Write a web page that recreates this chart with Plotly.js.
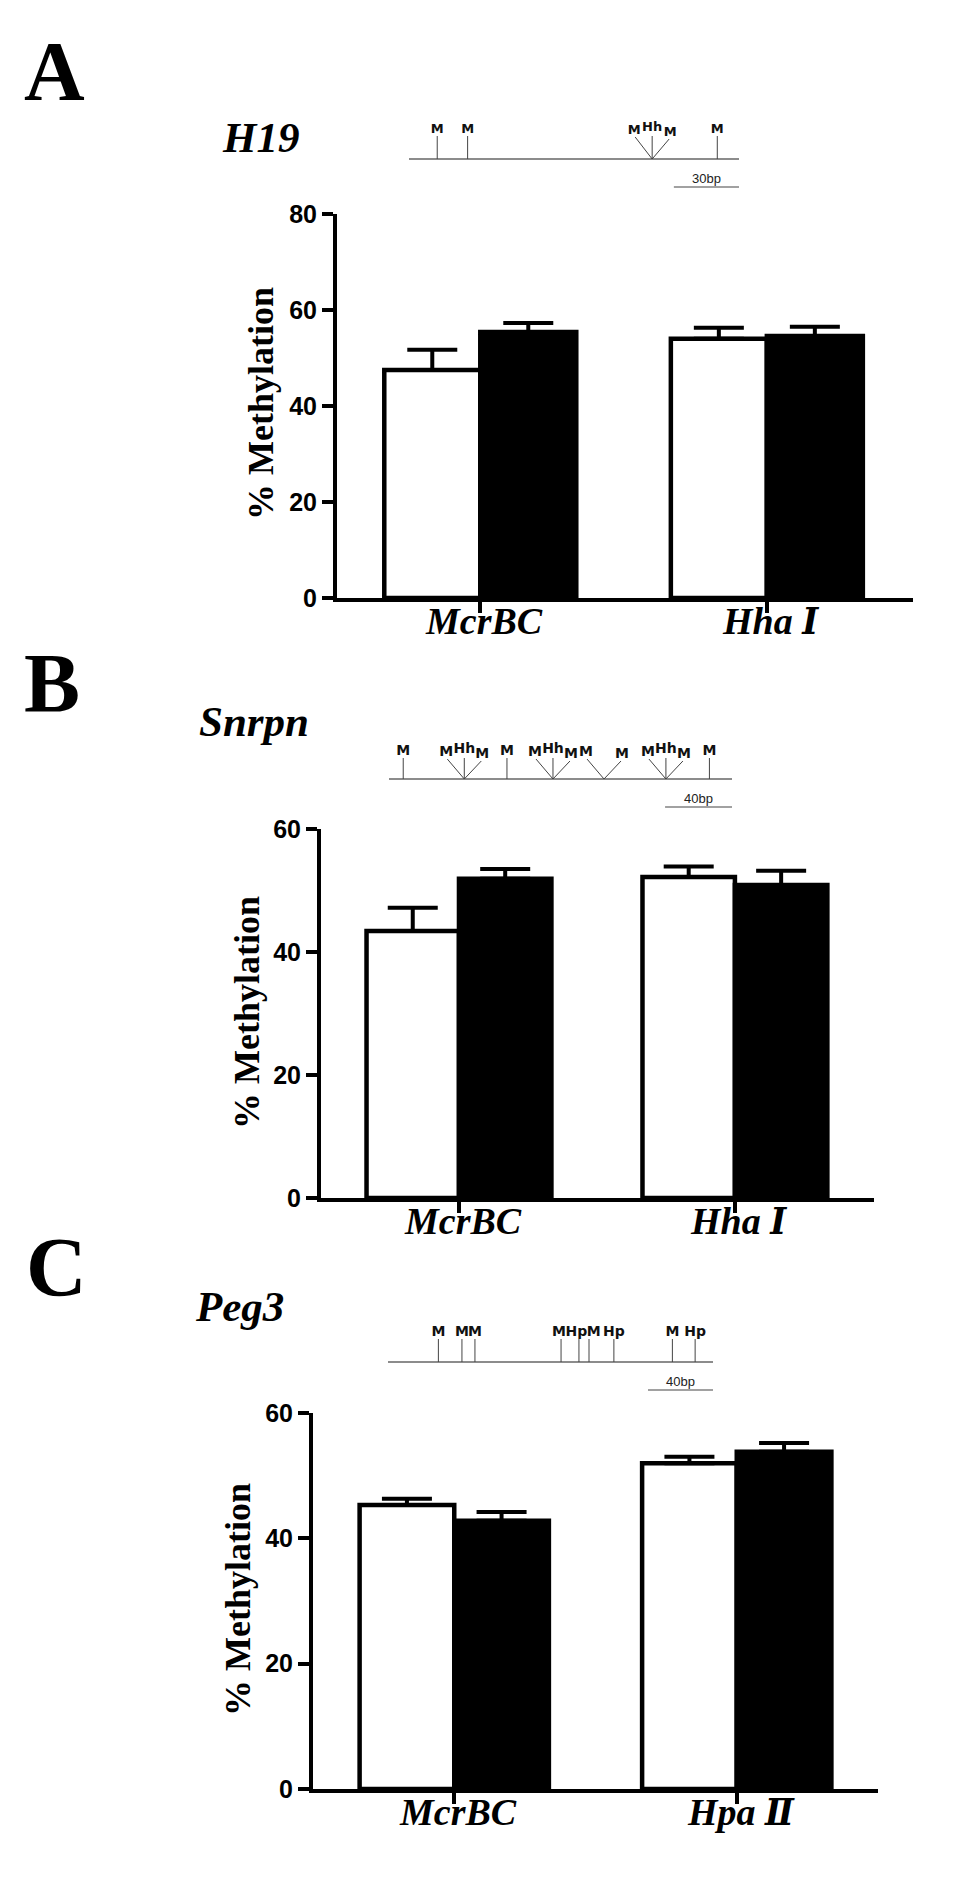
<!DOCTYPE html>
<html>
<head>
<meta charset="utf-8">
<script src="https://cdn.plot.ly/plotly-3.0.1.min.js"></script>
<style>html,body{margin:0;padding:0;background:#fff;}#chart{width:955px;height:1890px;}</style>
</head>
<body>
<div id="chart"></div>
<script>
// ---------------- DATA ----------------
const catsA = ['McrBC', 'Hha Ⅰ'];
const catsB = ['McrBC', 'Hha Ⅰ'];
const catsC = ['McrBC', 'Hpa Ⅱ'];

const h19Open = [47.5, 54.0];
const h19OpenErr = [4.2, 2.3];
const h19Filled = [55.4, 54.6];
const h19FilledErr = [1.9, 1.9];

const snrpnOpen = [43.4, 52.2];
const snrpnOpenErr = [3.8, 1.7];
const snrpnFilled = [51.9, 50.9];
const snrpnFilledErr = [1.6, 2.3];

const peg3Open = [45.3, 52.0];
const peg3OpenErr = [1.0, 1.0];
const peg3Filled = [42.8, 53.8];
const peg3FilledErr = [1.4, 1.4];

const yTicksA = [0, 20, 40, 60, 80];
const yTicksB = [0, 20, 40, 60];
const yTicksC = [0, 20, 40, 60];

// restriction maps (positions in bp)
const h19Length = 152;
const h19Sites = [13, 27, 112, 142];
const h19Enz = ['M', 'M', 'M Hh M', 'M'];
const h19Scale = 30;

const snrpnLength = 205;
const snrpnSites = [8.5, 45, 70.5, 98, 128.5, 165.5, 191.5];
const snrpnEnz = ['M', 'M Hh M', 'M', 'M Hh M', 'M M', 'M Hh M', 'M'];
const snrpnScale = 40;

const peg3Length = 200;
const peg3Sites = [31, 45.5, 53.5, 106.5, 117.5, 123.7, 139, 175, 189];
const peg3Enz = ['M', 'M', 'M', 'M', 'Hp', 'M', 'Hp', 'M', 'Hp'];
const peg3Scale = 40;

// ---------------- LAYOUT HELPERS ----------------
const W = 955, H = 1890;
const dx = (a, b) => [a / W, b / W];
const dy = (top, bottom) => [1 - bottom / H, 1 - top / H];
const px = p => p / W;
const py = p => 1 - p / H;

const SERIF_BI = "'Liberation Serif', 'Times New Roman', 'DejaVu Serif Condensed', 'DejaVu Serif', serif";

const traces = [];
const layout = {
  width: W, height: H,
  margin: {l: 0, r: 0, t: 0, b: 0},
  paper_bgcolor: '#fff', plot_bgcolor: 'rgba(0,0,0,0)',
  showlegend: false,
  barmode: 'group', bargap: 0.33, bargroupgap: 0,
  annotations: []
};

function barPanel(n, cats, open, openErr, filled, filledErr, yTicks, xDom, yDom, xRange) {
  const xa = n === 1 ? 'x' : 'x' + n, ya = n === 1 ? 'y' : 'y' + n;
  const errStyle = {type: 'data', symmetric: false, thickness: 4, width: 25, color: '#000'};
  traces.push({
    type: 'bar', x: cats, y: open, xaxis: xa, yaxis: ya, name: 'open',
    marker: {color: '#fff', line: {color: '#000', width: 4.5}},
    error_y: Object.assign({array: openErr, arrayminus: open.map(() => 0)}, errStyle),
    hoverinfo: 'skip'
  });
  traces.push({
    type: 'bar', x: cats, y: filled, xaxis: xa, yaxis: ya, name: 'filled',
    marker: {color: '#000', line: {color: '#000', width: 4.5}},
    error_y: Object.assign({array: filledErr, arrayminus: filled.map(() => 0)}, errStyle),
    hoverinfo: 'skip'
  });
  const axCommon = {
    showline: true, linewidth: 4, linecolor: '#000', showgrid: false, zeroline: false,
    ticks: 'outside', ticklen: 11, tickwidth: 4, tickcolor: '#000', fixedrange: true
  };
  layout['xaxis' + (n === 1 ? '' : n)] = Object.assign({}, axCommon, {
    domain: dx(xDom[0], xDom[1]), anchor: ya, range: xRange, type: 'category',
    showticklabels: false
  });
  layout['yaxis' + (n === 1 ? '' : n)] = Object.assign({}, axCommon, {
    domain: dy(yDom[0], yDom[1]), anchor: xa,
    range: [yTicks[0], yTicks[yTicks.length - 1]], tickvals: yTicks,
    tickfont: {family: 'Liberation Sans', size: 25, weight: 'bold', color: '#000'}
  });
  // category labels, placed on the category axis
  cats.forEach(c => {
    layout.annotations.push({
      text: c, x: c, xref: xa, y: py(yDom[1]), yref: 'paper',
      xanchor: 'center', yanchor: 'top', showarrow: false, xshift: 4,
      font: {family: SERIF_BI, size: 38, weight: 'bold', style: 'italic', color: '#000'}
    });
  });
}

const charW = {M: 0.863, H: 0.837, h: 0.712, p: 0.716};
function textWidth(t, size) {
  let w = 0;
  for (const ch of t) w += (charW[ch] || 0.7) * size;
  return w;
}

function mapPanel(n, length, sites, enz, scaleBp, xDom, baseY, tickH, fontSize) {
  const xa = 'x' + n, ya = 'y' + n;
  const top = baseY - 60, bottom = baseY + 40;
  const pxPerBp = (xDom[1] - xDom[0]) / length;
  const off = p => p / pxPerBp; // px offset -> bp
  layout['xaxis' + n] = {domain: dx(xDom[0], xDom[1]), range: [0, length], visible: false, anchor: ya, fixedrange: true};
  layout['yaxis' + n] = {domain: dy(top, bottom), range: [-(bottom - baseY), baseY - top], visible: false, anchor: xa, fixedrange: true};
  // backbone
  traces.push({type: 'scatter', mode: 'lines', x: [0, length], y: [0, 0], xaxis: xa, yaxis: ya,
    line: {color: '#666', width: 1.6}, hoverinfo: 'skip'});
  const sx = [], sy = [], labels = [];
  sites.forEach((s, i) => {
    const parts = enz[i].split(' ');
    if (parts.length === 1) {
      sx.push(s, s, null); sy.push(0, tickH, null);
      labels.push({x: s, y: tickH, t: parts[0]});
    } else {
      const l = s - off(17), r = s + off(17);
      sx.push(s, l, null, s, r, null); sy.push(0, tickH - 1, null, 0, tickH - 3, null);
      labels.push({x: l - off(1), y: tickH - 1, t: parts[0]});
      if (parts.length === 3) {
        sx.push(s, s, null); sy.push(0, tickH, null);
        labels.push({x: s, y: tickH + 2, t: parts[1]});
      }
      labels.push({x: r + off(1), y: tickH - 3, t: parts[parts.length - 1]});
    }
  });
  // push overlapping neighbouring labels apart
  labels.sort((a, b) => a.x - b.x);
  for (let iter = 0; iter < 20; iter++) {
    for (let k = 0; k < labels.length - 1; k++) {
      const a = labels[k], b = labels[k + 1];
      const need = off((textWidth(a.t, fontSize) + textWidth(b.t, fontSize)) / 2 + 0.5);
      const gap = b.x - a.x;
      if (gap < need) { const d = (need - gap) / 2; a.x -= d; b.x += d; }
    }
  }
  traces.push({type: 'scatter', mode: 'lines', x: sx, y: sy, xaxis: xa, yaxis: ya,
    line: {color: '#444', width: 1}, hoverinfo: 'skip'});
  traces.push({type: 'scatter', mode: 'text', x: labels.map(l => l.x), y: labels.map(l => l.y),
    text: labels.map(l => l.t), textposition: 'top center',
    xaxis: xa, yaxis: ya, cliponaxis: false,
    textfont: {family: 'DejaVu Sans', size: fontSize, weight: 'bold', color: '#111'}, hoverinfo: 'skip'});
  // scale bar
  traces.push({type: 'scatter', mode: 'lines', x: [length - scaleBp, length], y: [-28, -28], xaxis: xa, yaxis: ya,
    line: {color: '#444', width: 1.2}, hoverinfo: 'skip'});
  traces.push({type: 'scatter', mode: 'text', x: [length - scaleBp / 2], y: [-27], text: [scaleBp + 'bp'],
    textposition: 'top center', xaxis: xa, yaxis: ya, cliponaxis: false,
    textfont: {family: 'Liberation Sans', size: 13, color: '#222'}, hoverinfo: 'skip'});
}

barPanel(1, catsA, h19Open, h19OpenErr, h19Filled, h19FilledErr, yTicksA, [337, 913], [214, 598], [-0.5, 1.51]);
barPanel(2, catsB, snrpnOpen, snrpnOpenErr, snrpnFilled, snrpnFilledErr, yTicksB, [321, 874], [829, 1198], [-0.5, 1.504]);
barPanel(3, catsC, peg3Open, peg3OpenErr, peg3Filled, peg3FilledErr, yTicksC, [313, 878], [1413, 1789], [-0.5, 1.5]);

mapPanel(4, h19Length, h19Sites, h19Enz, h19Scale, [409, 739], 159, 23, 13);
mapPanel(5, snrpnLength, snrpnSites, snrpnEnz, snrpnScale, [389, 732], 779, 21, 14);
mapPanel(6, peg3Length, peg3Sites, peg3Enz, peg3Scale, [388, 713], 1362, 23, 14);

// panel letters, gene names, axis titles
function ann(text, x, y, font, extra) {
  layout.annotations.push(Object.assign({text: text, x: px(x), y: py(y), xref: 'paper', yref: 'paper',
    showarrow: false, font: font}, extra || {}));
}
const letterFont = {family: 'Liberation Serif', size: 84, weight: 'bold', color: '#000'};
const geneFont = {family: SERIF_BI, size: 43, weight: 'bold', style: 'italic', color: '#000'};
const yTitleFont = {family: 'Liberation Serif', size: 36, weight: 'bold', color: '#000'};

ann('A', 22, 72, letterFont, {xanchor: 'left', yanchor: 'middle'});
ann('B', 22, 683, letterFont, {xanchor: 'left', yanchor: 'middle'});
ann('C', 24, 1267, letterFont, {xanchor: 'left', yanchor: 'middle'});

ann('H19', 220, 137, geneFont, {xanchor: 'left', yanchor: 'middle'});
ann('Snrpn', 197, 721, geneFont, {xanchor: 'left', yanchor: 'middle'});
ann('Peg3', 193, 1306, geneFont, {xanchor: 'left', yanchor: 'middle'});

ann('% Methylation', 261, 404, yTitleFont, {textangle: -90, xanchor: 'center', yanchor: 'middle'});
ann('% Methylation', 247, 1012, yTitleFont, {textangle: -90, xanchor: 'center', yanchor: 'middle'});
ann('% Methylation', 238, 1600, yTitleFont, {textangle: -90, xanchor: 'center', yanchor: 'middle'});

Plotly.newPlot('chart', traces, layout, {staticPlot: true, displayModeBar: false});
</script>
</body>
</html>
